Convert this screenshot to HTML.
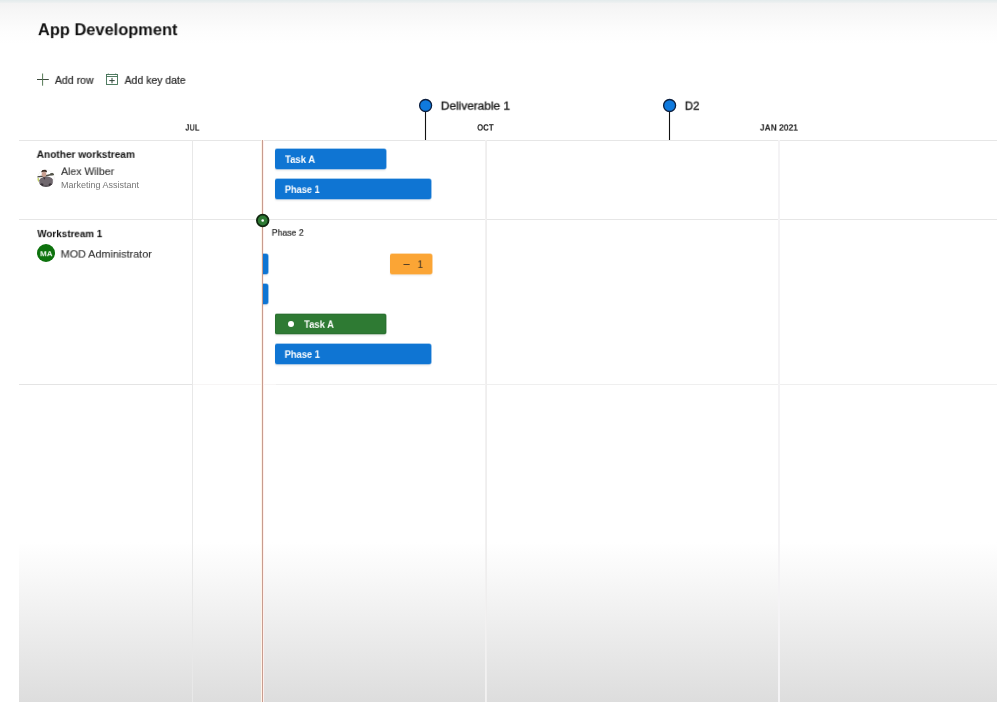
<!DOCTYPE html>
<html><head><meta charset="utf-8">
<style>
html,body{margin:0;padding:0;}
body{width:997px;height:702px;overflow:hidden;background:#fff;position:relative;font-family:"Liberation Sans",sans-serif;color:#201f1e;}
.abs{position:absolute;}
#topgrad{left:0;top:0;width:997px;height:44px;background:linear-gradient(to bottom,#f1f2f2 0,#f6f6f6 10px,#fdfdfd 32px,#fff 44px);}
#topline{left:0;top:0;width:997px;height:3px;background:linear-gradient(to bottom,#e3ebec,#eef1f1);}
#botgrad{left:19px;top:542px;width:978px;height:160px;background:linear-gradient(to bottom,#fff 0,#f3f3f3 58px,#dddddd 160px);}
.t{position:absolute;left:0;top:0;white-space:nowrap;line-height:1;transform-origin:0 0;will-change:transform;}
.hl{position:absolute;height:1px;background:#e6e6e6;}
.vl{position:absolute;width:1px;background:#e8e6e6;top:140px;height:562px;}
.bar{position:absolute;border-radius:2px;}
.blue{background:#0f75d3;box-shadow:0 -1px 0 rgba(15,117,211,.38),0 1px 0 rgba(15,117,211,.3),1px 0 0 rgba(15,117,211,.42),0 2px 2px rgba(0,0,0,.07);}
.green{background:#2e7a33;box-shadow:inset 0 0 0 1px #2a7130,0 -1px 0 rgba(42,113,48,.35),0 1px 0 rgba(42,113,48,.3),1px 0 0 rgba(42,113,48,.4),0 2px 2px rgba(0,0,0,.07);}
.orange{background:#fba535;box-shadow:0 -1px 0 rgba(251,165,53,.4),0 1px 0 rgba(251,165,53,.4),1px 0 0 rgba(251,165,53,.45),0 2px 2px rgba(0,0,0,.06);}
#deliv,#d2{-webkit-text-stroke:0.35px #1a1a1a;}
#addrow,#addkey{-webkit-text-stroke:0.2px #262626;}
#alex,#mod{-webkit-text-stroke:0.15px #333;}
#ph2{-webkit-text-stroke:0.2px #222;}
</style></head><body>
<div class="abs" id="topgrad"></div>
<div class="abs" id="topline"></div>
<div class="abs" id="botgrad"></div>

<!-- toolbar icons -->
<svg class="abs" style="left:36px;top:72px" width="14" height="15" viewBox="0 0 14 15"><path d="M1 7.5H12.8" stroke="#3d4a3d" stroke-width="1" fill="none"/><path d="M6.6 1.5V13.7" stroke="#557a55" stroke-width="1" fill="none"/></svg>
<svg class="abs" style="left:105px;top:72px" width="14" height="14" viewBox="0 0 14 14"><rect x="1.5" y="2.5" width="11" height="10" fill="none" stroke="#3f6f52" stroke-width="0.9"/><path d="M1.5 4.5H12.5M3.3 1.6V2.5M10.7 1.6V2.5" stroke="#3f6f52" stroke-width="0.9" fill="none"/><path d="M7 5.9V11.3M4.3 8.6H9.7" stroke="#2f4538" stroke-width="1" fill="none"/></svg>

<!-- key dates -->
<svg class="abs" style="left:415px;top:95px" width="22" height="46" viewBox="0 0 22 46"><path d="M10.5 16V45.5" stroke="#111" stroke-width="1.1"/><circle cx="10.6" cy="10.5" r="6" fill="#0f7ade" stroke="#0c1f3f" stroke-width="1.3"/></svg>
<svg class="abs" style="left:659px;top:95px" width="22" height="46" viewBox="0 0 22 46"><path d="M10.5 16V45.5" stroke="#111" stroke-width="1.1"/><circle cx="10.6" cy="10.5" r="6" fill="#0f7ade" stroke="#0c1f3f" stroke-width="1.3"/></svg>

<!-- grid -->
<div class="hl" style="left:19px;top:140px;width:978px"></div>
<div class="hl" style="left:19px;top:219px;width:978px"></div>
<div class="hl" style="left:19px;top:384px;width:173px;background:#e4e4e4"></div>
<div class="hl" style="left:193px;top:384px;width:83px;background:#f7f5f5"></div>
<div class="hl" style="left:276px;top:384px;width:721px;background:#efefef"></div>
<div class="vl" style="left:192px;background:#e8e8e8"></div>
<div class="vl" style="left:485px;width:2px;background:linear-gradient(to right,#f3f2f2,#eeeded)"></div>
<div class="vl" style="left:778px;width:2px;background:#f4f3f5"></div>
<div class="vl" style="left:261px;width:3px;background:linear-gradient(to right,#fff4e8 0,#fff4e8 33.3%,#c89c8e 33.3%,#c89c8e 66.6%,#fff0ee 66.6%)"></div>

<!-- avatars -->
<svg class="abs" style="left:32px;top:164px" width="28" height="28" viewBox="0 0 28 28"><defs><filter id="bl" x="-20%" y="-20%" width="140%" height="140%"><feGaussianBlur stdDeviation="0.5"/></filter><clipPath id="av"><circle cx="14" cy="14" r="8.8"/></clipPath></defs><g filter="url(#bl)"><g clip-path="url(#av)"><circle cx="14" cy="14" r="8.4" fill="none" stroke="#eeeeee" stroke-width="0.8"/><ellipse cx="6.2" cy="15.8" rx="1.1" ry="2.1" fill="#c5d66b"/><path d="M7.3 24V16.2Q8 13.8 11.4 12.9L14.6 12.6Q19.6 13 20.8 15.6V24Z" fill="#6f676e"/><ellipse cx="9.9" cy="20.7" rx="1.6" ry="1.5" fill="#393338"/><ellipse cx="18.2" cy="20.7" rx="1.6" ry="1.5" fill="#393338"/><ellipse cx="14" cy="22.4" rx="5" ry="1" fill="#4a4449"/><path d="M11.2 13.6L12.4 15.8L13.4 13.6Z" fill="#3a3035"/><path d="M5.2 12.9L13 12L21.6 10" stroke="#4f4e46" stroke-width="1.3" fill="none"/><ellipse cx="20" cy="10.3" rx="2.2" ry="1.3" fill="#55564e"/><ellipse cx="12" cy="10.2" rx="2.3" ry="2.7" fill="#c9a092"/><path d="M9.3 8.6Q9.2 5.6 12.2 5.5Q15.2 5.7 15 8.6Q14.4 7.6 12.1 7.7Q9.9 7.6 9.3 8.6Z" fill="#3e2d25"/></g></g></svg>
<div class="abs" style="left:37px;top:244px;width:18px;height:18px;border-radius:50%;background:#0d720d"></div>

<!-- bars -->
<div class="bar blue" style="left:275px;top:149px;width:111px;height:20px"></div>
<div class="bar blue" style="left:275px;top:179px;width:156px;height:20px"></div>
<svg class="abs" style="left:254px;top:212px" width="18" height="18" viewBox="0 0 18 18"><circle cx="8.7" cy="8.5" r="5.8" fill="#2e7a33" stroke="#10260f" stroke-width="1.8"/><circle cx="8.7" cy="8.5" r="1.3" fill="#fff"/></svg>
<div class="bar blue" style="left:263px;top:254px;width:5px;height:20px;border-radius:0 2px 2px 0"></div>
<div class="bar blue" style="left:263px;top:284px;width:5px;height:20px;border-radius:0 2px 2px 0"></div>
<div class="bar orange" style="left:390px;top:254px;width:41.5px;height:20px"></div>
<div class="bar green" style="left:275px;top:314px;width:111px;height:20px"></div>
<div class="abs" style="left:287.7px;top:320.7px;width:6.8px;height:6.8px;border-radius:50%;background:#fff"></div>
<div class="bar blue" style="left:275px;top:344px;width:156px;height:20px"></div>

<div class="t" id="dash" style="font-size:11px;color:#222;transform:translate(403.3px,257.6px) scale(1.05,1)">–</div>
<div class="t" id="title" style="font-size:16.5px;font-weight:bold;color:#111;transform:translate(37.89px,21.33px) scale(0.9954,0.9881)">App Development</div>
<div class="t" id="addrow" style="font-size:11px;font-weight:normal;color:#262626;transform:translate(54.88px,74.90px) scale(0.9580,1.0000)">Add row</div>
<div class="t" id="addkey" style="font-size:11px;font-weight:normal;color:#262626;transform:translate(124.61px,74.93px) scale(0.9506,1.0000)">Add key date</div>
<div class="t" id="deliv" style="font-size:12px;font-weight:normal;color:#1a1a1a;transform:translate(440.80px,100.78px) scale(0.9892,0.8861)">Deliverable 1</div>
<div class="t" id="d2" style="font-size:12px;font-weight:normal;color:#1a1a1a;transform:translate(684.82px,100.68px) scale(0.9484,0.9056)">D2</div>
<div class="t" id="jul" style="font-size:10px;font-weight:bold;color:#222;transform:translate(185.29px,124.32px) scale(0.7508,0.7811)">JUL</div>
<div class="t" id="oct" style="font-size:10px;font-weight:bold;color:#222;transform:translate(477.07px,124.25px) scale(0.7865,0.7918)">OCT</div>
<div class="t" id="jan" style="font-size:10px;font-weight:bold;color:#222;transform:translate(759.92px,124.33px) scale(0.8424,0.7783)">JAN 2021</div>
<div class="t" id="ws1" style="font-size:10px;font-weight:bold;color:#111;transform:translate(36.65px,150.48px) scale(1.0094,0.9142)">Another workstream</div>
<div class="t" id="alex" style="font-size:11px;font-weight:normal;color:#333;transform:translate(61.05px,166.49px) scale(0.9537,0.9462)">Alex Wilber</div>
<div class="t" id="mkt" style="font-size:9px;font-weight:normal;color:#777;transform:translate(60.98px,180.66px) scale(1.0014,1.0000)">Marketing Assistant</div>
<div class="t" id="ws2" style="font-size:10px;font-weight:bold;color:#111;transform:translate(37.32px,229.86px) scale(0.9828,0.9127)">Workstream 1</div>
<div class="t" id="mod" style="font-size:11px;font-weight:normal;color:#333;transform:translate(60.66px,249.25px) scale(0.9806,0.9268)">MOD Administrator</div>
<div class="t" id="ph2" style="font-size:10px;font-weight:normal;color:#222;transform:translate(271.75px,229.09px) scale(0.8681,0.8241)">Phase 2</div>
<div class="t" id="taskA1" style="font-size:11px;font-weight:bold;color:#fff;transform:translate(285.02px,154.47px) scale(0.8609,0.9331)">Task A</div>
<div class="t" id="phase1a" style="font-size:11px;font-weight:bold;color:#fff;transform:translate(284.82px,184.56px) scale(0.8368,0.9378)">Phase 1</div>
<div class="t" id="taskA2" style="font-size:11px;font-weight:bold;color:#fff;transform:translate(304.07px,319.41px) scale(0.8546,0.9378)">Task A</div>
<div class="t" id="phase1b" style="font-size:11px;font-weight:bold;color:#fff;transform:translate(284.65px,349.45px) scale(0.8463,0.9303)">Phase 1</div>
<div class="t" id="ma" style="font-size:8px;font-weight:bold;color:#f2faf2;transform:translate(40.12px,250.22px) scale(0.9928,1.0000)">MA</div>
<div class="t" id="one" style="font-size:11px;font-weight:normal;color:#222;transform:translate(417.54px,259.48px) scale(0.9046,0.9225)">1</div>
</body></html>
